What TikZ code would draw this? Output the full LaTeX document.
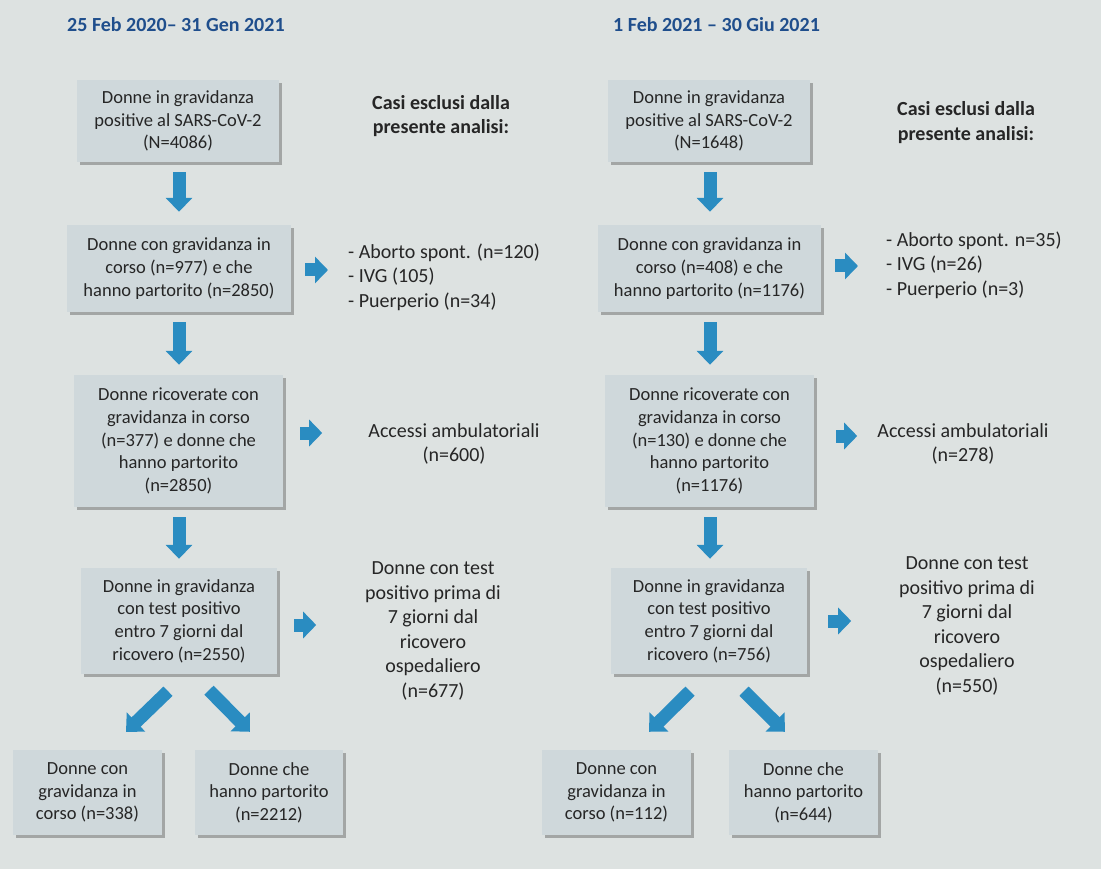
\documentclass[tikz,border=0pt]{standalone}
\usepackage{fontspec}
\setmainfont{Carlito}
\usetikzlibrary{arrows.meta,shadows,calc}
\definecolor{bg}{HTML}{DDE2E1}
\definecolor{boxfill}{HTML}{CFD8DB}
\definecolor{arrowblue}{HTML}{2A8CC1}
\definecolor{titleblue}{HTML}{1F4E8C}
\definecolor{txt}{HTML}{262626}
\begin{document}
\begin{tikzpicture}[x=1pt,y=-1pt,
  box/.style={fill=boxfill, draw=none, inner sep=0pt, align=center, text=txt,
    font=\fontsize{18.5}{22.6}\selectfont,
    drop shadow={shadow xshift=3pt,shadow yshift=-3pt,fill=black!70,opacity=0.4}},
  side/.style={inner sep=0pt, text=txt, font=\fontsize{20}{24.6}\selectfont},
  head/.style={inner sep=0pt, text=txt, align=center, font=\bfseries\fontsize{20}{24.6}\selectfont},
  ttl/.style={inner sep=0pt, text=titleblue, anchor=west, font=\bfseries\fontsize{20}{24}\selectfont},
  barrow/.style={draw=arrowblue, line width=13pt, line cap=butt,
    -{Triangle[width=26pt,length=14pt]}},
  rarrow/.style={draw=arrowblue, line width=13pt, line cap=butt,
    -{Triangle[width=26pt,length=13pt]}}
]
\fill[bg] (0,0) rectangle (1101,869);
\useasboundingbox (0,0) rectangle (1101,869);

% ---------- titles ----------
\node[ttl] (TL) at (67,25) {25 Feb 2020– 31 Gen 2021};
\node[ttl] (TR) at (613,25) {1 Feb 2021 – 30 Giu 2021};

% ---------- left column ----------
\node[box, minimum width=202pt, minimum height=82pt] (L1) at (178,121)
  {Donne in gravidanza\\positive al SARS-CoV-2\\(N=4086)};
\node[box, minimum width=224pt, minimum height=87pt] (L2) at (179,268.5)
  {Donne con gravidanza in\\corso (n=977) e che\\hanno partorito (n=2850)};
\node[box, minimum width=209pt, minimum height=132pt] (L3) at (178.5,441)
  {Donne ricoverate con\\gravidanza in corso\\(n=377) e donne che\\hanno partorito\\(n=2850)};
\node[box, minimum width=196pt, minimum height=106pt] (L4) at (179,621)
  {Donne in gravidanza\\con test positivo\\entro 7 giorni dal\\ricovero (n=2550)};
\node[box, minimum width=149pt, minimum height=85pt] (L5a) at (87.5,792.5)
  {Donne con\\gravidanza in\\corso (n=338)};
\node[box, minimum width=148pt, minimum height=85pt] (L5b) at (269,792.5)
  {Donne che\\hanno partorito\\(n=2212)};

\node[head] (LH) at (441,116) {Casi esclusi dalla\\presente analisi:};
\node[side, align=left, anchor=west] (LX2) at (348,277)
  {- Aborto spont. (n=120)\\- IVG (105)\\- Puerperio (n=34)};
\node[side, align=center] (LX3) at (454,444) {Accessi ambulatoriali\\(n=600)};
\node[side, align=center] (LX4) at (433,631)
  {Donne con test\\positivo prima di\\7 giorni dal\\ricovero\\ospedaliero\\(n=677)};

% ---------- right column ----------
\node[box, minimum width=202pt, minimum height=82pt] (R1) at (709,121)
  {Donne in gravidanza\\positive al SARS-CoV-2\\(N=1648)};
\node[box, minimum width=223pt, minimum height=87pt] (R2) at (709.5,268.5)
  {Donne con gravidanza in\\corso (n=408) e che\\hanno partorito (n=1176)};
\node[box, minimum width=209pt, minimum height=132pt] (R3) at (709.5,441)
  {Donne ricoverate con\\gravidanza in corso\\(n=130) e donne che\\hanno partorito\\(n=1176)};
\node[box, minimum width=196pt, minimum height=106pt] (R4) at (709,621)
  {Donne in gravidanza\\con test positivo\\entro 7 giorni dal\\ricovero (n=756)};
\node[box, minimum width=149pt, minimum height=85pt] (R5a) at (616.5,792.5)
  {Donne con\\gravidanza in\\corso (n=112)};
\node[box, minimum width=149pt, minimum height=85pt] (R5b) at (803.5,792.5)
  {Donne che\\hanno partorito\\(n=644)};

\node[head] (RH) at (966,122.5) {Casi esclusi dalla\\presente analisi:};
\node[side, align=left, anchor=west] (RX2) at (886,265)
  {- Aborto spont. n=35)\\- IVG (n=26)\\- Puerperio (n=3)};
\node[side, align=center] (RX3) at (963,444) {Accessi ambulatoriali\\(n=278)};
\node[side, align=center] (RX4) at (967,626)
  {Donne con test\\positivo prima di\\7 giorni dal\\ricovero\\ospedaliero\\(n=550)};

% ---------- down arrows ----------
\draw[barrow] ($(L1.south)+(1,10)$) -- ($(L2.north)+(0,-13)$);
\draw[barrow] ($(L2.south)+(0,10)$) -- ($(L3.north)+(0.5,-10)$);
\draw[barrow] ($(L3.south)+(0.5,10)$) -- ($(L4.north)+(0,-9)$);
\draw[barrow] ($(R1.south)+(1,10)$) -- ($(R2.north)+(0.5,-13)$);
\draw[barrow] ($(R2.south)+(0.5,10)$) -- ($(R3.north)+(0.5,-10)$);
\draw[barrow] ($(R3.south)+(0.5,10)$) -- ($(R4.north)+(1,-9)$);

% ---------- side arrows ----------
\draw[rarrow] ($(L2.east)+(14,1.5)$) -- ($(LX2.west)+(-20,-7)$);
\draw[rarrow] ($(L3.east)+(17,-8)$) -- ($(L3.east)+(39,-8)$);
\draw[rarrow] ($(L4.east)+(17,4)$) -- ($(L4.east)+(39,4)$);
\draw[rarrow] ($(R2.east)+(14,-2.5)$) -- ($(RX2.west)+(-28,1)$);
\draw[rarrow] ($(R3.east)+(22,-5)$) -- ($(R3.east)+(43,-5)$);
\draw[rarrow] ($(R4.east)+(21,0)$) -- ($(R4.east)+(44,0)$);

% ---------- diagonal arrows ----------
\draw[barrow] ($(L4.south)+(-11,17)$) -- ($(L5a.north)+(38.5,-18)$);
\draw[barrow] ($(L4.south)+(30,16)$) -- ($(L5b.north)+(-19,-18)$);
\draw[barrow] ($(R4.south)+(-19,17)$) -- ($(R5a.north)+(32.5,-18)$);
\draw[barrow] ($(R4.south)+(35,17)$) -- ($(R5b.north)+(-18.5,-18)$);
\end{tikzpicture}
\end{document}
